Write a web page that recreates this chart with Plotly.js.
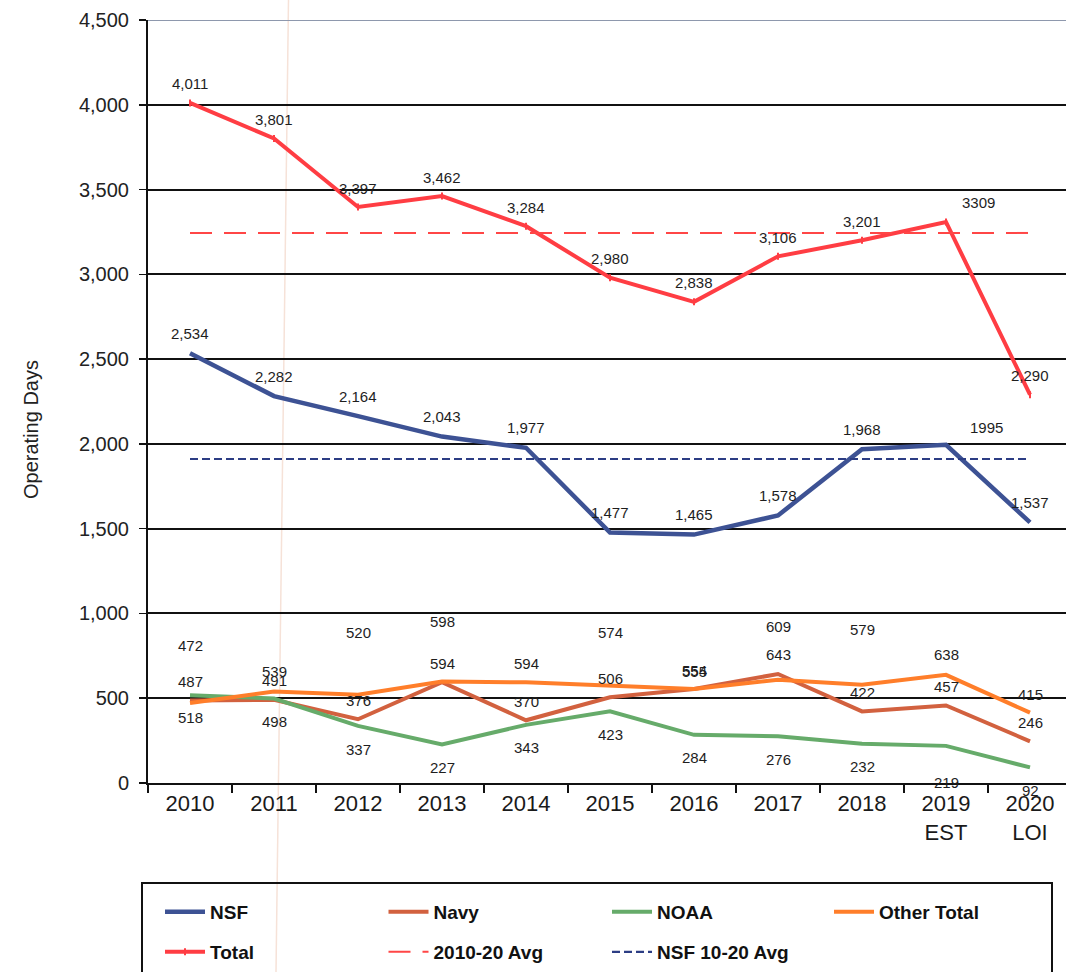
<!DOCTYPE html>
<html><head><meta charset="utf-8">
<script src="https://cdn.plot.ly/plotly-3.0.1.min.js"></script>
<style>html,body{margin:0;padding:0;background:#fff;}</style>
</head><body><div id="chart" style="width:1066px;height:972px;"></div>
<script>
// ---- data ----
const years = ['2010','2011','2012','2013','2014','2015','2016','2017','2018','2019<br>EST','2020<br>LOI'];
const nsf = [2534,2282,2164,2043,1977,1477,1465,1578,1968,1995,1537];
const navy = [487,491,376,594,370,506,554,643,422,457,246];
const noaa = [518,498,337,227,343,423,284,276,232,219,92];
const otherTotal = [472,539,520,598,594,574,555,609,579,638,415];
const total = [4011,3801,3397,3462,3284,2980,2838,3106,3201,3309,2290];
const totalAvg = [3244,3244,3244,3244,3244,3244,3244,3244,3244,3244,3244];
const nsfAvg = [1911,1911,1911,1911,1911,1911,1911,1911,1911,1911,1911];
const yTicks = [0,500,1000,1500,2000,2500,3000,3500,4000,4500];
const yTickText = ['0','500','1,000','1,500','2,000','2,500','3,000','3,500','4,000','4,500'];

// ---- label styling (pixel offsets, not data) ----
const plainLabelIdx = 9; // 2019 labels of NSF and Total shown without comma
const otherRaise = [57,20,62,60,19,53,17,53,55,20,18];
const noaaDrop = [22,23,24,23,23,23,23,23,23,37,23];

// ---- geometry helpers for decorations ----
const W = 1066, H = 972, ML = 148, MR = 0, MT = 20, MB = 189;
const PW = W - ML - MR, PH = H - MT - MB;
const px = x => (x - ML) / PW;
const py = y => (H - MB - y) / PH;

const FONT = 'Liberation Sans, Arial, sans-serif';
const fmt = v => v.toLocaleString('en-US');

const C = {
  nsf: '#3d5294', navy: '#d2613f', noaa: '#66ab6a', other: '#ff7e2a',
  total: '#ff3d43', totalAvg: '#ff4646', nsfAvg: '#2c3d84'
};

const traces = [
  {name:'NSF', x:years, y:nsf, type:'scatter', mode:'lines', line:{color:C.nsf, width:4.5}, legend:'legend'},
  {name:'Navy', x:years, y:navy, type:'scatter', mode:'lines', line:{color:C.navy, width:4}, legend:'legend'},
  {name:'NOAA', x:years, y:noaa, type:'scatter', mode:'lines', line:{color:C.noaa, width:4}, legend:'legend'},
  {name:'Other Total', x:years, y:otherTotal, type:'scatter', mode:'lines', line:{color:C.other, width:4}, legend:'legend3'},
  {name:'Total', x:years, y:total, type:'scatter', mode:'lines+markers', line:{color:C.total, width:4},
   marker:{symbol:'line-ns', size:5, color:C.total, line:{color:C.total, width:2}}, legend:'legend2'},
  {name:'2010-20 Avg', x:years, y:totalAvg, type:'scatter', mode:'lines', line:{color:C.totalAvg, width:2, dash:'22px,12px'}, legend:'legend2'},
  {name:'NSF 10-20 Avg', x:years, y:nsfAvg, type:'scatter', mode:'lines', line:{color:C.nsfAvg, width:2.2, dash:'8px,4px'}, legend:'legend2'}
];

const annotations = [];
const lblFont = {family:FONT, size:15, color:'#1e1e1e'};
function addLabels(vals, shiftFn, plainIdx, xshiftFn){
  vals.forEach((v,i)=>{
    annotations.push({x:i, y:v, xref:'x', yref:'y', showarrow:false,
      text: (i===plainIdx ? String(v) : fmt(v)), font:lblFont,
      yshift: shiftFn(i), xshift: xshiftFn ? xshiftFn(i) : 0});
  });
}
addLabels(total, i=>19, plainLabelIdx, i=> i===9 ? 32 : 0);
addLabels(nsf, i=> i===9 ? 17 : 20, plainLabelIdx, i=> i===9 ? 40 : 0);
addLabels(navy, i=>19, -1);
addLabels(noaa, i=>-noaaDrop[i], -1);
addLabels(otherTotal, i=>otherRaise[i], -1);

annotations.push({xref:'paper', yref:'paper', x:px(31), y:py(430), text:'Operating Days', showarrow:false,
  textangle:-90, font:{family:FONT, size:20, color:'#222'}, xanchor:'center', yanchor:'middle'});

const shapes = [
  // faint top gridline at 4,500
  {type:'line', xref:'paper', yref:'y', x0:0, x1:1, y0:4500, y1:4500, line:{color:'#8e98ad', width:2}, layer:'above'},
  // faint vertical scan streak
  {type:'line', xref:'paper', yref:'paper', x0:px(288.5), y0:py(0), x1:px(276), y1:py(972), line:{color:'#f6e2d8', width:1.5}, layer:'below'},
  // legend frame
  {type:'rect', xref:'paper', yref:'paper', x0:px(142), x1:px(1052), y0:py(883), y1:py(985), line:{color:'#111', width:2}, fillcolor:'rgba(0,0,0,0)'}
];

const legendCommon = {orientation:'h', entrywidth:168.5, entrywidthmode:'pixels', itemwidth:40,
  font:{family:FONT, size:19, color:'#111', weight:'bold'}, bgcolor:'rgba(0,0,0,0)', borderwidth:0,
  xanchor:'left', yanchor:'middle', traceorder:'normal'};

const layout = {
  width:W, height:H, margin:{l:ML, r:MR, t:MT, b:MB, pad:0, autoexpand:false},
  paper_bgcolor:'#fff', plot_bgcolor:'#fff',
  font:{family:FONT, color:'#222'},
  showlegend:true,
  legend: Object.assign({}, legendCommon, {x:px(160), y:py(912)}),
  legend3: Object.assign({}, legendCommon, {x:px(160 + 3*223), y:py(912), entrywidth:120}),
  legend2: Object.assign({}, legendCommon, {x:px(160), y:py(952)}),
  xaxis:{type:'category', range:[-0.5, -0.5 + PW/84], showgrid:false, zeroline:false,
    showline:true, linecolor:'#111', linewidth:2, ticks:'outside', tickson:'boundaries',
    ticklen:8, tickwidth:1.5, tickcolor:'#111',
    tickfont:{family:FONT, size:22, color:'#1a1a1a'}, fixedrange:true},
  yaxis:{range:[0,4500], tickvals:yTicks, ticktext:yTickText, showgrid:true, gridcolor:'#111', gridwidth:2,
    zeroline:false, showline:true, linecolor:'#111', linewidth:2, ticks:'outside', ticklen:7, tickwidth:1.5,
    tickcolor:'#111', ticklabelstandoff:6, tickfont:{family:FONT, size:20, color:'#222'}, fixedrange:true},
  annotations:annotations,
  shapes:shapes
};

Plotly.newPlot('chart', traces, layout, {displayModeBar:false, staticPlot:true});
</script>
</body></html>
